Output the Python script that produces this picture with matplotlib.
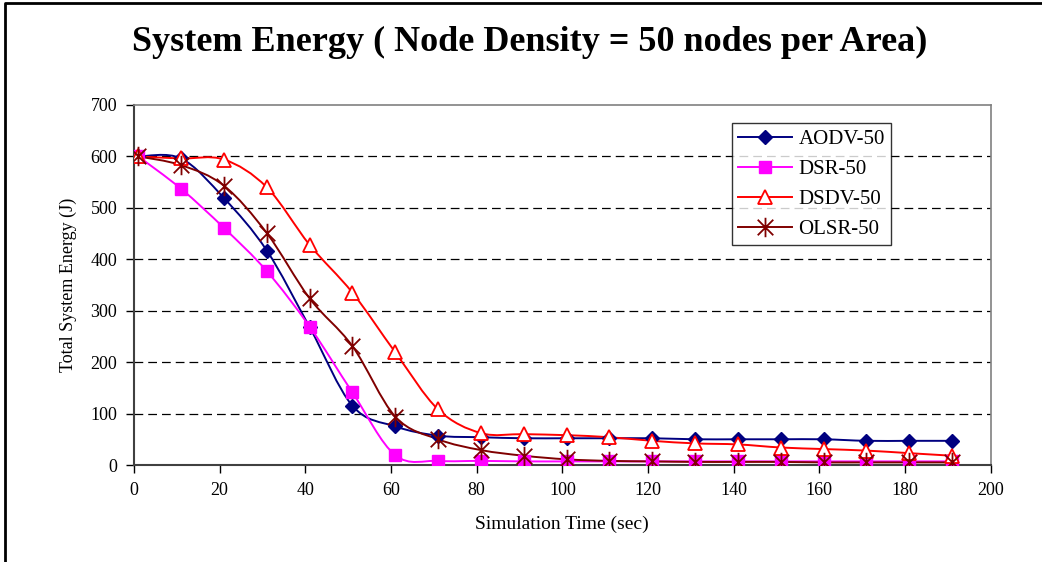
import matplotlib.pyplot as plt
import numpy as np
from matplotlib.path import Path
from matplotlib.patches import PathPatch
from matplotlib.lines import Line2D

plt.rcParams['font.family'] = ['Liberation Serif', 'DejaVu Serif']

# данні
time = [1, 11, 21, 31, 41, 51, 61, 71, 81, 91, 101, 111, 121, 131, 141, 151, 161, 171, 181, 191]
aodv = [600, 596, 519, 417, 268, 115, 75, 57, 54, 52, 52, 52, 52, 50, 50, 50, 50, 47, 47, 47]
dsr = [600, 537, 461, 377, 269, 141, 19, 8, 8, 7, 7, 7, 7, 7, 7, 7, 7, 7, 7, 7]
dsdv = [600, 596, 594, 540, 428, 335, 219, 108, 62, 60, 58, 54, 47, 42, 40, 34, 31, 28, 23, 18]
olsr = [600, 583, 543, 451, 324, 231, 94, 50, 29, 18, 11, 8, 7, 6, 6, 6, 5, 5, 5, 5]

names = ['AODV-50', 'DSR-50', 'DSDV-50', 'OLSR-50']
series = [aodv, dsr, dsdv, olsr]

# маркер "зірочка" як у Excel
star = Path([(0, -1), (0, 1), (-0.8, -0.8), (0.8, 0.8), (-0.8, 0.8), (0.8, -0.8)],
            [Path.MOVETO, Path.LINETO, Path.MOVETO, Path.LINETO, Path.MOVETO, Path.LINETO])

styles = [
    dict(color='#000080', marker='D', ms=7, mfc='#000080', mew=1),
    dict(color='#FF00FF', marker='s', ms=8, mfc='#FF00FF', mew=1),
    dict(color='#FF0000', marker='^', ms=10, mfc='white', mew=1.3),
    dict(color='#800000', marker=star, ms=14, mfc='#800000', mew=1.3),
]


def smooth_path(xs, ys):
    # згладжена лінія (криві Безьє, як у Excel)
    pts = np.column_stack([xs, ys]).astype(float)
    n = len(pts)
    verts = [pts[0]]
    codes = [Path.MOVETO]
    for i in range(n - 1):
        p0 = pts[i - 1] if i > 0 else pts[i]
        p1 = pts[i]
        p2 = pts[i + 1]
        p3 = pts[i + 2] if i + 2 < n else pts[i + 1]
        c1 = p1 + (p2 - p0) / 6
        c2 = p2 - (p3 - p1) / 6
        verts += [c1, c2, p2]
        codes += [Path.CURVE4] * 3
    return Path(verts, codes)


fig = plt.figure(figsize=(10.42, 5.62), dpi=100)
W, H = 1042, 562
ax = fig.add_axes([134 / W, (H - 465) / H, 856.7 / W, 360 / H])

for y in range(100, 700, 100):
    ax.axhline(y, color='black', lw=0.9, dashes=(7, 4), zorder=1)

handles = []
for name, ys, st in zip(names, series, styles):
    ax.add_patch(PathPatch(smooth_path(time, ys), fill=False, edgecolor=st['color'],
                           lw=1.4, zorder=2, transform=ax.transData))
    ax.plot(time, ys, ls='none', marker=st['marker'], ms=st['ms'], color=st['color'],
            mfc=st['mfc'], mec=st['color'], mew=st['mew'], zorder=3)
    handles.append(Line2D([], [], color=st['color'], lw=1.4, marker=st['marker'], ms=st['ms'],
                          mfc=st['mfc'], mec=st['color'], mew=st['mew'], label=name))

ax.set_xlim(0, 200)
ax.set_ylim(0, 700)
ax.set_xticks(range(0, 201, 20))
ax.set_yticks(range(0, 701, 100))
ax.tick_params(direction='out', length=6, width=1, labelsize=13, colors='black', pad=6)

for side in ['top', 'right']:
    ax.spines[side].set_color('#808080')
    ax.spines[side].set_linewidth(1.2)
for side in ['left', 'bottom']:
    ax.spines[side].set_color('#404040')
    ax.spines[side].set_linewidth(1.5)

ax.set_xlabel('Simulation Time (sec)', fontsize=14, labelpad=12)
ax.set_ylabel('Total System Energy (J)', fontsize=13, labelpad=10)

leg = ax.legend(handles=handles, loc='upper left', bbox_to_anchor=(0.6977, 0.949),
                fontsize=15, frameon=True, fancybox=False, edgecolor='black',
                handlelength=2.6, borderpad=0.3, labelspacing=0.5, handletextpad=0.3,
                borderaxespad=0)
leg.get_frame().set_linewidth(1.0)

fig.text(0.5087, 1 - 42 / H, 'System Energy ( Node Density = 50 nodes per Area)',
         ha='center', va='center', fontsize=26, fontweight='bold')

# рамка рисунка: лише зверху і зліва
fig.add_artist(Line2D([5 / W, 5 / W, 1], [0, 1 - 3 / H, 1 - 3 / H],
                      transform=fig.transFigure, color='black', lw=2))

fig.savefig('out.png', dpi=100)
